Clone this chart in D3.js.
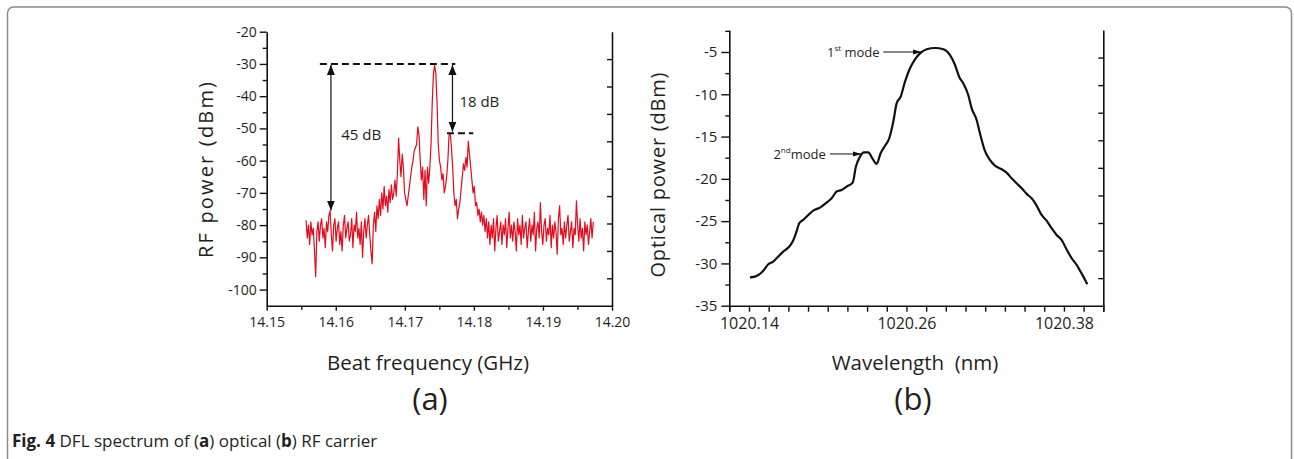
<!DOCTYPE html>
<html>
<head>
<meta charset="utf-8">
<script src="https://cdn.jsdelivr.net/npm/d3@7.9.0/dist/d3.min.js"></script>
<style>
  body { margin: 0; background: #fff; }
  svg { display: block; }
  text { font-family: "Open Sans", sans-serif; fill: #231f20; }
</style>
</head>
<body>
<svg id="fig" width="1294" height="459"></svg>
<script>
// ---------- (a) RF beat spectrum ----------
const rfStart = 14.1557;   // first sweep point (GHz)
const rfStep = 0.000174;   // sweep spacing (GHz)
const rfPower = [
  -78.5, -84, -80, -86, -79, -83, -81, -88, -96, -82, -79, -85, -80, -78, -84, -81, -87, -79, -82, -77,
  -75.5, -83, -88, -80, -78, -85, -81, -79, -86, -82, -88, -80, -77, -84, -81, -79, -85, -83, -78, -87,
  -80, -82, -76, -84, -81, -86, -79, -90, -82, -78, -84, -80, -77, -83, -88, -92,
  -80, -76, -82, -74, -78, -72, -77, -70, -75, -68, -74, -71, -76, -69, -73, -67.5, -72, -70, -66, -71, -64,
  -53, -60, -65, -58, -62, -70, -72, -74, -71, -68, -65, -62, -60, -57, -56, -55, -49.5, -52, -60, -66,
  -62, -72, -63, -74, -62, -67, -62, -55, -42, -33, -30.5, -33, -42, -55, -60,
  -62, -66, -64, -70, -68, -65, -60, -52, -51.5, -56, -62, -70, -74, -72, -78, -75, -73, -69, -65, -61,
  -63, -59, -62, -54, -58, -62, -66, -70, -68, -74, -73, -77, -75, -79, -76, -80, -77, -82, -78, -84, -79, -86,
  -80, -84, -78, -88, -81, -77, -85, -82, -79, -86, -80, -83, -78, -87, -81, -76, -84, -80, -85, -79,
  -82, -88, -78, -83, -80, -86, -77, -84, -81, -79, -87, -82, -78, -85, -80, -83, -76, -88, -81, -79,
  -84, -73, -82, -86, -80, -78, -85, -81, -83, -77, -87, -80, -84, -79, -82, -89, -78, -74, -83, -81,
  -86, -79, -84, -80, -77, -85, -82, -79, -87, -81, -83, -72.5, -80, -85, -78, -84, -81, -88, -79, -83,
  -80, -86, -82, -78, -84, -79
];
const rfXTicks = [14.15, 14.16, 14.17, 14.18, 14.19, 14.20];
const rfYTicks = [-100, -90, -80, -70, -60, -50, -40, -30, -20];

// ---------- (b) optical spectrum ----------
const wavelength = [
  1020.1407, 1020.1446, 1020.1484, 1020.1514, 1020.1547, 1020.1585, 1020.1623, 1020.1661, 1020.1700, 1020.1733,
  1020.1758, 1020.1783, 1020.1819, 1020.1852, 1020.1890, 1020.1941, 1020.1992, 1020.2030, 1020.2068, 1020.2106,
  1020.2144, 1020.2190, 1020.2215, 1020.2246, 1020.2276, 1020.2309, 1020.2340, 1020.2373, 1020.2403, 1020.2436,
  1020.2469, 1020.2500, 1020.2525, 1020.2556, 1020.2589, 1020.2627, 1020.2665, 1020.2703, 1020.2754, 1020.2817,
  1020.2881, 1020.2931, 1020.2970, 1020.3003, 1020.3033, 1020.3071, 1020.3097, 1020.3135, 1020.3160, 1020.3198,
  1020.3236, 1020.3274, 1020.3325, 1020.3363, 1020.3401, 1020.3439, 1020.3478, 1020.3516, 1020.3554, 1020.3592,
  1020.3630, 1020.3668, 1020.3706, 1020.3744, 1020.3782, 1020.3820, 1020.3859, 1020.3897, 1020.3922, 1020.3948,
  1020.3978
];
const opticalPower = [
  -31.64, -31.56, -31.24, -30.77, -30.1, -29.78, -29.19, -28.6, -28.13, -27.42,
  -26.43, -25.25, -24.78, -24.27, -23.75, -23.4, -22.81, -22.3, -21.5, -21.31,
  -20.92, -20.45, -18.55, -17.37, -16.86, -16.86, -17.57, -18.24, -16.98, -16.11,
  -15.2, -13.23, -11.07, -10.28, -8.51, -6.93, -5.87, -5.16, -4.68, -4.53,
  -4.68, -5.35, -6.54, -7.99, -8.7, -10.08, -11.66, -13.04, -14.61, -16.7,
  -17.77, -18.44, -18.87, -19.26, -19.93, -20.52, -21.11, -21.78, -22.3, -23.16,
  -24.27, -24.94, -25.84, -26.63, -27.22, -28.33, -29.39, -30.18, -30.85, -31.56,
  -32.46
];
const wlXTicks = [1020.14, 1020.26, 1020.38];
const opYTicks = [-35, -30, -25, -20, -15, -10, -5];

const svg = d3.select("#fig");
const plain = d => String(d);   // keep the ASCII hyphen as minus, like the original

// outer rounded frame of the figure box
svg.append("rect")
  .attr("x", 7.5).attr("y", 7).attr("width", 1284).attr("height", 480)
  .attr("rx", 6).attr("fill", "none").attr("stroke", "#8a8a8a").attr("stroke-width", 1.5);

// arrowhead markers
const defs = svg.append("defs");
defs.append("marker").attr("id", "head")
  .attr("viewBox", "0 0 10 10").attr("refX", 10).attr("refY", 5)
  .attr("markerWidth", 10).attr("markerHeight", 10).attr("markerUnits", "userSpaceOnUse")
  .attr("orient", "auto-start-reverse")
  .append("path").attr("d", "M0,1 L10,5 L0,9 Z").attr("fill", "#111");
defs.append("marker").attr("id", "small")
  .attr("viewBox", "0 0 10 10").attr("refX", 10).attr("refY", 5)
  .attr("markerWidth", 9).attr("markerHeight", 9).attr("markerUnits", "userSpaceOnUse")
  .attr("orient", "auto")
  .append("path").attr("d", "M0,2 L10,5 L0,8 Z").attr("fill", "#111");

function styleAxis(g) {
  g.select(".domain").attr("stroke", "#111").attr("stroke-width", 1.6);
  g.selectAll(".tick line").attr("stroke", "#111").attr("stroke-width", 1.4);
}

// ================= panel (a) =================
const xA = d3.scaleLinear().domain([14.15, 14.20]).range([266.7, 612]);
const yA = d3.scaleLinear().domain([-105, -20]).range([305.7, 31.7]);
const frameA = d3.scaleLinear().domain([0, 10]).range([305.7, 31.7]);

const gA = svg.append("g");

// minor ticks
gA.append("g").attr("transform", "translate(266.7,0)")
  .call(d3.axisLeft(yA).tickValues(d3.range(-95, -20, 10)).tickSize(4).tickFormat(""))
  .call(styleAxis).select(".domain").remove();
gA.append("g").attr("transform", "translate(0,305.7)")
  .call(d3.axisBottom(xA).tickValues([14.155, 14.165, 14.175, 14.185, 14.195]).tickSize(4).tickFormat(""))
  .call(styleAxis).select(".domain").remove();

// right frame with inward ticks
gA.append("g").attr("transform", "translate(612,0)")
  .call(d3.axisLeft(frameA).tickValues(d3.range(1, 10)).tickSize(5).tickSizeOuter(0).tickFormat(""))
  .call(styleAxis);

const axYA = gA.append("g").attr("transform", "translate(266.7,0)")
  .call(d3.axisLeft(yA).tickValues(rfYTicks).tickSize(7).tickSizeOuter(0).tickPadding(3).tickFormat(plain))
  .call(styleAxis);
axYA.selectAll("text").attr("font-size", 14).attr("font-family", "Open Sans");

const axXA = gA.append("g").attr("transform", "translate(0,305.7)")
  .call(d3.axisBottom(xA).tickValues(rfXTicks).tickSize(5).tickSizeOuter(0).tickPadding(6)
    .tickFormat(d3.format(".2f")))
  .call(styleAxis);
axXA.selectAll("text").attr("font-size", 14).attr("font-family", "Open Sans");

// spectrum trace
const rfData = rfPower.map((p, i) => ({ f: rfStart + i * rfStep, p }));
gA.append("path").datum(rfData)
  .attr("fill", "none").attr("stroke", "#e30b1c").attr("stroke-width", 1.2)
  .attr("stroke-linejoin", "round")
  .attr("d", d3.line().x(d => xA(d.f)).y(d => yA(d.p)));

// annotations: carrier level and 45 dB / 18 dB spans
gA.append("line")
  .attr("x1", xA(14.1577)).attr("x2", xA(14.1773)).attr("y1", yA(-30)).attr("y2", yA(-30))
  .attr("stroke", "#111").attr("stroke-width", 2).attr("stroke-dasharray", "7,4");
gA.append("line")
  .attr("x1", xA(14.1761)).attr("x2", xA(14.1799)).attr("y1", yA(-51.5)).attr("y2", yA(-51.5))
  .attr("stroke", "#111").attr("stroke-width", 2).attr("stroke-dasharray", "7,4");
gA.append("line")
  .attr("x1", xA(14.1593)).attr("x2", xA(14.1593)).attr("y1", yA(-30.3)).attr("y2", yA(-75.5))
  .attr("stroke", "#111").attr("stroke-width", 1.2)
  .attr("marker-start", "url(#head)").attr("marker-end", "url(#head)");
gA.append("line")
  .attr("x1", xA(14.1769)).attr("x2", xA(14.1769)).attr("y1", yA(-30.3)).attr("y2", yA(-51))
  .attr("stroke", "#111").attr("stroke-width", 1.2)
  .attr("marker-start", "url(#head)").attr("marker-end", "url(#head)");
gA.append("text").attr("x", xA(14.1608)).attr("y", yA(-53.6))
  .attr("font-size", 15).text("45 dB");
gA.append("text").attr("x", xA(14.1779)).attr("y", yA(-43.5))
  .attr("font-size", 15).text("18 dB");

// axis titles
gA.append("text")
  .attr("transform", "translate(213,170) rotate(-90)")
  .attr("text-anchor", "middle").attr("font-size", 20)
  .attr("textLength", 176).attr("lengthAdjust", "spacing")
  .text("RF power (dBm)");
gA.append("text").attr("x", 428).attr("y", 370)
  .attr("text-anchor", "middle").attr("font-size", 20.5).text("Beat frequency (GHz)");
gA.append("text").attr("x", 430).attr("y", 410)
  .attr("text-anchor", "middle").attr("font-size", 31)
  .attr("font-family", "Liberation Sans, Arial, sans-serif").text("(a)");

// ================= panel (b) =================
const xB = d3.scaleLinear().domain([1020.125, 1020.41]).range([729.3, 1103.3]);
const yB = d3.scaleLinear().domain([-35, -2.4]).range([305.7, 30]);
const frameB = d3.scaleLinear().domain([0, 10]).range([305.7, 30]);

const gB = svg.append("g");

gB.append("g").attr("transform", "translate(729.3,0)")
  .call(d3.axisLeft(yB).tickValues(d3.range(-32.5, -2, 5)).tickSize(4).tickFormat(""))
  .call(styleAxis).select(".domain").remove();
gB.append("g").attr("transform", "translate(0,305.7)")
  .call(d3.axisBottom(xB).tickValues(d3.range(0, 20).map(k => 1020.125 + k * 0.015)).tickSize(6).tickFormat(""))
  .call(styleAxis);

gB.append("g").attr("transform", "translate(1103.3,0)")
  .call(d3.axisLeft(frameB).tickValues(d3.range(1, 10)).tickSize(5).tickSizeOuter(0).tickFormat(""))
  .call(styleAxis);

const axYB = gB.append("g").attr("transform", "translate(729.3,0)")
  .call(d3.axisLeft(yB).tickValues(opYTicks).tickSize(8).tickSizeOuter(0).tickPadding(4).tickFormat(plain))
  .call(styleAxis);
axYB.selectAll("text").attr("font-size", 15).attr("font-family", "Open Sans");

const axXB = gB.append("g").attr("transform", "translate(0,305.7)")
  .call(d3.axisBottom(xB).tickValues(wlXTicks).tickSize(0).tickPadding(12)
    .tickFormat(d3.format(".2f")))
  .call(styleAxis);
axXB.select(".domain").remove();
axXB.selectAll("text").attr("font-size", 16).attr("font-family", "Open Sans");

const opData = wavelength.map((w, i) => ({ w, p: opticalPower[i] }));
gB.append("path").datum(opData)
  .attr("fill", "none").attr("stroke", "#111").attr("stroke-width", 2.2)
  .attr("stroke-linejoin", "round")
  .attr("d", d3.line().x(d => xB(d.w)).y(d => yB(d.p)).curve(d3.curveMonotoneX));

// mode labels
gB.append("line")
  .attr("x1", xB(1020.2424)).attr("x2", xB(1020.2716)).attr("y1", yB(-5)).attr("y2", yB(-5))
  .attr("stroke", "#111").attr("stroke-width", 1).attr("marker-end", "url(#small)");
gB.append("line")
  .attr("x1", xB(1020.2017)).attr("x2", xB(1020.2258)).attr("y1", yB(-17.06)).attr("y2", yB(-17.06))
  .attr("stroke", "#111").attr("stroke-width", 1).attr("marker-end", "url(#small)");

const m1 = gB.append("text").attr("x", xB(1020.2395)).attr("y", yB(-5) + 5)
  .attr("text-anchor", "end").attr("font-size", 13);
m1.append("tspan").text("1");
m1.append("tspan").attr("font-size", 8).attr("dy", -6).text("st");
m1.append("tspan").attr("dy", 6).text(" mode");

const m2 = gB.append("text").attr("x", xB(1020.1985)).attr("y", yB(-17.06) + 5)
  .attr("text-anchor", "end").attr("font-size", 13);
m2.append("tspan").text("2");
m2.append("tspan").attr("font-size", 8).attr("dy", -6).text("nd");
m2.append("tspan").attr("dy", 6).text("mode");

gB.append("text")
  .attr("transform", "translate(665,175) rotate(-90)")
  .attr("text-anchor", "middle").attr("font-size", 20)
  .attr("textLength", 205).attr("lengthAdjust", "spacing")
  .text("Optical power (dBm)");
gB.append("text").attr("x", 915).attr("y", 370)
  .attr("text-anchor", "middle").attr("font-size", 20.5)
  .style("white-space", "pre").text("Wavelength  (nm)");
gB.append("text").attr("x", 913).attr("y", 410)
  .attr("text-anchor", "middle").attr("font-size", 31)
  .attr("font-family", "Liberation Sans, Arial, sans-serif").text("(b)");

// ================= caption =================
const cap = svg.append("text").attr("x", 12).attr("y", 447).attr("font-size", 17);
cap.append("tspan").attr("font-weight", "bold").text("Fig. 4");
cap.append("tspan").text(" DFL spectrum of (");
cap.append("tspan").attr("font-weight", "bold").text("a");
cap.append("tspan").text(") optical (");
cap.append("tspan").attr("font-weight", "bold").text("b");
cap.append("tspan").text(") RF carrier");
</script>
</body>
</html>
